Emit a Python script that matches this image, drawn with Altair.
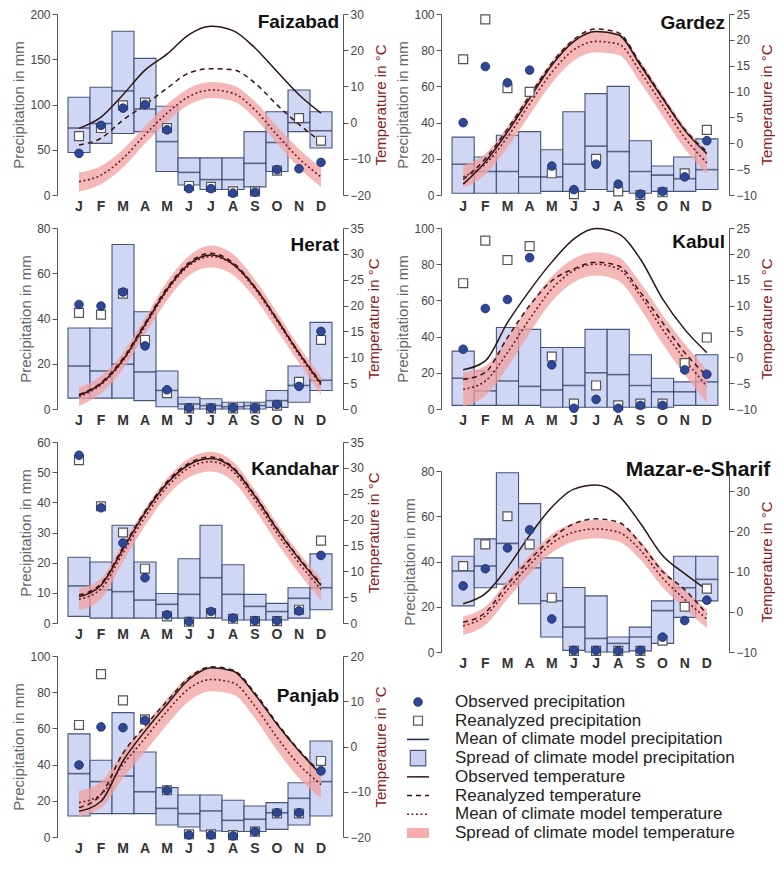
import altair as alt
import pandas as pd

MONTHS = ["J", "F", "M", "A", "M", "J", "J", "A", "S", "O", "N", "D"]

# ---------------- Faizabad ----------------
faiz_p_lo = [47, 57, 68, 70, 26, 11, 6, 6, 9, 26, 70, 52]
faiz_p_hi = [108, 119, 181, 151, 98, 41, 41, 41, 70, 92, 116, 92]
faiz_p_mean = [74, 79, 115, 95, 59, 25, 17, 17, 35, 58, 80, 71]
faiz_obs = [46, 77, 96, 100, 72, 7, 7, 2, 3, 28, 29, 36]
faiz_rea = [65, 74, 99, 102, 74, 10, 9, 4, 4, 27, 85, 60]
faiz_t_obs = [-1.6, 1.5, 7.7, 14.5, 18.9, 24.3, 26.6, 25.4, 20.6, 14.1, 7.7, 2.6]
faiz_t_rea = [-6.2, -4.3, 0.7, 4.9, 9.5, 13.7, 14.9, 14.6, 10.9, 4.9, -0.5, -5.3]
faiz_t_mod = [-16.3, -14.5, -9.9, -3.4, 2.6, 7.2, 9.0, 8.1, 3.5, -3.4, -9.9, -15.0]
faiz_t_lo = [-19.0, -17.0, -12.4, -5.8, 0.2, 4.9, 6.8, 5.9, 1.2, -5.8, -12.5, -17.8]
faiz_t_hi = [-13.8, -12.0, -7.4, -1.0, 5.0, 9.5, 11.2, 10.3, 5.8, -1.0, -7.3, -12.5]

# ---------------- Gardez ----------------
gard_p_lo = [1, 1, 1, 1, 2, 2, 3, 2, 1, 2, 2, 3]
gard_p_hi = [32, 21, 33, 35, 25, 46, 56, 60, 30, 16, 21, 31]
gard_p_mean = [17, 13, 13, 10, 10, 17, 27, 24, 13, 11, 9, 14]
gard_obs = [40, 71, 62, 69, 16, 3, 17, 6, 0.5, 2, 10, 30]
gard_rea = [75, 97, 59, 57, 12, 0.5, 20, 2, 0, 1.5, 12, 36]
gard_t_obs = [-7.9, -3.6, 2.2, 8.7, 15.1, 19.7, 21.6, 21.0, 15.1, 8.7, 2.5, -2.0]
gard_t_rea = [-7.0, -3.0, 2.8, 9.2, 15.5, 20.1, 22.1, 21.4, 15.4, 8.9, 2.7, -1.6]
gard_t_mod = [-6.5, -4.0, 1.2, 7.6, 13.7, 18.1, 19.7, 19.2, 13.8, 7.4, 1.1, -3.8]
gard_t_lo = [-8.7, -6.0, -0.8, 5.5, 11.6, 16.0, 17.6, 17.1, 11.7, 5.3, -1.0, -6.0]
gard_t_hi = [-4.3, -2.0, 3.2, 9.7, 15.8, 20.2, 21.8, 21.3, 15.9, 9.5, 3.2, -1.6]

# ---------------- Herat ----------------
hera_p_lo = [4.8, 4.8, 4.8, 3.7, 1, 0, 0, 0, 0, 0.7, 3, 8.2]
hera_p_hi = [35.8, 35.8, 72.7, 43, 16.8, 5.2, 4.5, 3, 3, 8.2, 19, 38.3]
hera_p_mean = [19, 16.8, 19.8, 16.4, 8.2, 2.2, 1.5, 1, 1.5, 3.7, 10.4, 12.7]
hera_obs = [46.2, 45.5, 51.7, 27.9, 8.5, 0.5, 0.5, 0.5, 0.5, 2, 10, 34.3]
hera_rea = [42.5, 41.7, 51, 30.5, 7, 0.3, 0.3, 0.3, 0.3, 1.5, 12, 30.5]
hera_t_obs = [2.6, 4.9, 9.5, 16.3, 23.1, 28.0, 29.8, 28.0, 23.5, 17.3, 10.8, 4.9]
hera_t_rea = [2.8, 5.1, 9.8, 16.6, 23.4, 28.3, 30.1, 28.3, 23.6, 17.4, 10.9, 5.1]
hera_t_mod = [2.4, 4.7, 9.3, 16.0, 22.8, 27.7, 29.5, 27.9, 23.2, 17.0, 10.5, 4.6]
hera_t_lo = [0.6, 3.0, 7.7, 14.4, 21.0, 25.8, 27.4, 25.9, 21.4, 15.3, 8.9, 2.8]
hera_t_hi = [4.2, 6.4, 10.9, 17.6, 24.6, 29.6, 31.6, 29.9, 25.0, 18.7, 12.1, 6.4]

# ---------------- Kabul ----------------
kabu_p_lo = [2, 2, 2, 2, 1, 1, 1, 1, 1, 1, 2, 2]
kabu_p_hi = [32, 21, 45, 44, 34, 34, 44, 44, 30, 17, 15, 30]
kabu_p_mean = [17, 10, 15.5, 12.5, 10.5, 13, 20, 19, 13, 9.5, 9.5, 15]
kabu_obs = [33, 55.5, 60.5, 83.6, 24.4, 0.4, 5.3, 0.4, 2, 2, 21.6, 19.2]
kabu_rea = [69.5, 93, 82.3, 90, 29, 3, 13, 2, 3, 3, 25.4, 39.5]
kabu_t_obs = [-2.4, -0.7, 6.7, 12.9, 18.4, 22.9, 24.9, 23.9, 19.0, 11.3, 5.4, 0.9]
kabu_t_rea = [-4.3, -2.9, 3.8, 10.0, 14.8, 17.1, 18.4, 17.7, 12.6, 6.7, 0.9, -3.6]
kabu_t_mod = [-6.2, -4.6, 0.9, 7.4, 13.2, 16.8, 18.0, 17.1, 11.9, 5.4, -0.4, -5.6]
kabu_t_lo = [-9.5, -7.5, -2.0, 4.7, 10.8, 14.5, 15.8, 14.8, 9.4, 2.6, -3.4, -8.8]
kabu_t_hi = [-2.9, -1.7, 3.8, 10.1, 15.6, 19.1, 20.3, 19.4, 14.4, 8.2, 2.6, -2.4]

# ---------------- Kandahar ----------------
kand_p_lo = [2.2, 1.6, 1.6, 1.6, 1.6, 1.6, 1.6, 1, 1, 1, 1.6, 4.4]
kand_p_hi = [21.8, 20.2, 32.4, 20.2, 9.8, 21.3, 32.4, 19.3, 9.5, 6.5, 11.7, 22.9]
kand_p_mean = [12.3, 11, 10.4, 7.6, 6.2, 9.5, 15, 9.5, 5.5, 3.8, 8.2, 11.7]
kand_obs = [55.6, 38.2, 26.5, 15, 2.7, 0.5, 3.8, 1.6, 0.8, 0.8, 4, 22.4]
kand_rea = [54, 38.7, 30, 18, 2.2, 0.4, 3.3, 1.4, 0.6, 0.6, 4.4, 27.3]
kand_t_obs = [5.1, 7.3, 14.3, 21.3, 27.0, 30.6, 31.8, 29.9, 24.5, 18.1, 12.4, 7.3]
kand_t_rea = [5.4, 7.6, 14.6, 21.6, 27.3, 30.9, 32.1, 30.1, 24.7, 18.3, 12.6, 7.6]
kand_t_mod = [4.6, 6.6, 13.6, 20.5, 26.3, 30.0, 31.2, 29.3, 23.8, 17.4, 11.6, 6.5]
kand_t_lo = [2.5, 4.6, 11.8, 18.8, 24.6, 28.2, 29.3, 27.4, 21.9, 15.5, 9.6, 4.4]
kand_t_hi = [6.7, 8.6, 15.4, 22.2, 28.0, 31.8, 33.1, 31.2, 25.7, 19.3, 13.6, 8.6]

# ---------------- Mazar-e-Sharif ----------------
maza_p_lo = [20.4, 28.4, 30, 21.3, 6.6, 0.7, 0, 0, 0.5, 3.8, 15.3, 22.6]
maza_p_hi = [42.3, 50, 79.2, 65.6, 41.6, 28.5, 24.8, 6.6, 11, 22.6, 42.3, 42.3]
maza_p_mean = [35.8, 38, 48, 37.2, 22.6, 11, 6, 3.8, 6.6, 18.3, 28.4, 32.1]
maza_obs = [29.2, 36.8, 46, 54, 14.6, 0.7, 0.7, 0.5, 0.7, 6.6, 13.9, 22.9]
maza_rea = [38, 47.6, 60, 47.6, 24, 0.5, 0.5, 0.5, 0.5, 5, 20, 28]
maza_t_obs = [2.0, 4.5, 11.0, 19.0, 26.0, 30.5, 31.5, 29.0, 22.0, 14.0, 9.5, 5.5]
maza_t_rea = [-2.6, -0.2, 6.8, 12.9, 18.2, 21.9, 23.1, 22.3, 17.0, 10.0, 5.5, -0.6]
maza_t_mod = [-3.5, -1.0, 5.5, 11.7, 17.0, 19.8, 20.6, 19.8, 15.3, 8.4, 3.1, -1.8]
maza_t_lo = [-5.8, -3.3, 3.2, 9.4, 14.7, 17.5, 18.3, 17.5, 13.0, 6.1, 0.8, -4.1]
maza_t_hi = [-1.2, 1.3, 7.8, 14.0, 19.3, 22.1, 22.9, 22.1, 17.6, 10.7, 5.4, 0.5]

# ---------------- Panjab ----------------
panj_p_lo = [11.6, 12.9, 12.9, 12.9, 6.6, 5.5, 3.3, 3, 3, 4.2, 6.6, 11.6]
panj_p_hi = [57, 42.4, 68.7, 47, 27.3, 23.2, 23.2, 20.3, 17.1, 19, 30, 53]
panj_p_mean = [35, 30.6, 33.7, 25, 15.8, 12.9, 14.4, 9.2, 9.8, 13.4, 21.4, 30.6]
panj_obs = [39.8, 60.8, 60.4, 64.5, 25.8, 1.1, 1.1, 0.6, 3, 13.4, 13.4, 36.5]
panj_rea = [61.9, 90, 75.5, 65, 25.8, 1.5, 1.5, 1, 3, 13, 13, 42]
panj_t_obs = [-14.3, -12.1, -3.2, 3.4, 9.3, 14.8, 17.4, 16.7, 11.5, 4.9, -1.0, -6.2]
panj_t_rea = [-13.5, -10.6, -1.5, 4.5, 10.0, 15.2, 17.6, 16.9, 11.8, 5.2, -0.8, -5.8]
panj_t_mod = [-12.4, -10.6, -4.0, 1.8, 7.8, 12.8, 14.8, 14.1, 8.9, 2.0, -4.0, -8.4]
panj_t_lo = [-15.4, -13.6, -7.0, -1.2, 4.8, 10.0, 12.2, 11.5, 6.2, -0.9, -7.0, -11.4]
panj_t_hi = [-9.8, -7.8, -1.2, 4.6, 10.6, 15.6, 17.4, 16.7, 11.6, 4.9, -1.2, -5.6]

LEGEND_LABELS = [
    "Observed precipitation",
    "Reanalyzed precipitation",
    "Mean of climate model precipitation",
    "Spread of climate model precipitation",
    "Observed temperature",
    "Reanalyzed temperature",
    "Mean of climate model temperature",
    "Spread of climate model temperature",
]

FONT = "Liberation Sans"
LABEL_EXPR = "[" + ",".join("'%s'" % m for m in MONTHS) + "][datum.value]"

C_BAR_FILL = "#c8d0f2"
C_BAR_STROKE = "#46557a"
C_MEAN = "#27355a"
C_OBS = "#2d4896"
C_REA = "#555555"
C_BAND = "#f2a0a0"
C_TOBS = "#2a1515"
C_TREA = "#3a1212"
C_TMOD = "#7a1a1a"


def legend_layer():
    idx = list(range(len(LEGEND_LABELS)))
    ldf = pd.DataFrame({"i": idx, "label": LEGEND_LABELS})
    ly = alt.Y("i:Q", axis=None,
               scale=alt.Scale(domain=[0, len(idx) - 1], range=[231, 362],
                               nice=False, zero=False))
    lb = alt.Chart(ldf)
    sx, tx, half = -23, 14, 11

    def sel(k):
        return lb.transform_filter(alt.datum.i == k)

    return alt.layer(
        sel(0).mark_circle(size=75, color=C_OBS, stroke="#1a2a66", strokeWidth=0.8,
                           opacity=1).encode(y=ly, x=alt.value(sx)),
        sel(1).mark_square(size=80, fill="white", stroke=C_REA, strokeWidth=1.2,
                           opacity=1).encode(y=ly, x=alt.value(sx)),
        sel(2).mark_rule(color=C_MEAN, strokeWidth=1.6).encode(
            y=ly, x=alt.value(sx - half), x2=alt.value(sx + half)),
        sel(3).mark_square(size=240, fill=C_BAR_FILL, stroke=C_BAR_STROKE,
                           strokeWidth=1.1, opacity=1).encode(y=ly, x=alt.value(sx)),
        sel(4).mark_rule(color=C_TOBS, strokeWidth=1.5).encode(
            y=ly, x=alt.value(sx - half), x2=alt.value(sx + half)),
        sel(5).mark_rule(color=C_TREA, strokeWidth=1.5, strokeDash=[5, 4]).encode(
            y=ly, x=alt.value(sx - half), x2=alt.value(sx + half)),
        sel(6).mark_rule(color=C_TMOD, strokeWidth=1.6, strokeDash=[2, 2.5]).encode(
            y=ly, x=alt.value(sx - half), x2=alt.value(sx + half)),
        sel(7).mark_rule(color=C_BAND, strokeWidth=10, opacity=0.85).encode(
            y=ly, x=alt.value(sx - half), x2=alt.value(sx + half)),
        lb.mark_text(align="left", baseline="middle", fontSize=17, font=FONT,
                     color="#222").encode(y=ly, x=alt.value(tx), text="label:N"),
    )


def panel(name, p_lo, p_hi, p_mean, obs, rea, t_obs, t_rea, t_mod, t_lo, t_hi,
          p_dom, p_ticks, t_dom, t_ticks, w, h, name_y=8, inside=True, extra=None):
    df = pd.DataFrame({
        "m": list(range(12)), "p_lo": p_lo, "p_hi": p_hi, "p_mean": p_mean,
        "obs": obs, "rea": rea, "t_obs": t_obs, "t_rea": t_rea,
        "t_mod": t_mod, "t_lo": t_lo, "t_hi": t_hi,
    })
    step = w / 13.0
    xscale = alt.Scale(paddingInner=0, paddingOuter=0.5)
    xaxis = alt.Axis(title=None, labelExpr=LABEL_EXPR, labelAngle=0, domain=False,
                     ticks=False, labelFontSize=14, labelFontWeight="bold",
                     labelColor="#333", labelPadding=4, labelFont=FONT)
    xb = alt.X("m:O", scale=xscale, axis=xaxis)
    xc = alt.X("m:O", scale=xscale, axis=xaxis, bandPosition=0.5)
    base = alt.Chart(df)

    pscale = alt.Scale(domain=p_dom, nice=False, zero=False)
    laxis = alt.Axis(orient="left", title="Precipitation in mm", values=p_ticks,
                     grid=False, tickSize=5, tickColor="#555", domainColor="#555",
                     labelColor="#444", labelFontSize=12, titleFontSize=15,
                     titleColor="#666", titleFontWeight="normal", titlePadding=3,
                     labelPadding=2)
    bars = base.mark_bar(fill=C_BAR_FILL, fillOpacity=0.85, stroke=C_BAR_STROKE,
                         strokeWidth=1.1).encode(
        x=xb, y=alt.Y("p_lo:Q", scale=pscale, axis=laxis), y2="p_hi:Q")
    mean = base.mark_tick(color=C_MEAN, thickness=1.6, size=step).encode(
        x=xb, y=alt.Y("p_mean:Q", scale=pscale, axis=laxis))
    precip = alt.layer(bars, mean)

    tscale = alt.Scale(domain=t_dom, nice=False, zero=False)
    raxis = alt.Axis(orient="right", title="Temperature in °C", values=t_ticks,
                     grid=False, tickSize=5, tickColor="#555", domainColor="#555",
                     labelColor="#444", labelFontSize=12, titleFontSize=15,
                     titleColor="#8b1a1a", titleFontWeight="normal", titleAngle=270,
                     titleBaseline="top", titlePadding=3, labelPadding=2)
    band = base.mark_area(color=C_BAND, opacity=0.75, interpolate="monotone").encode(
        x=xc, y=alt.Y("t_lo:Q", scale=tscale, axis=raxis), y2="t_hi:Q")
    l_obs = base.mark_line(color=C_TOBS, strokeWidth=1.5, interpolate="monotone").encode(
        x=xc, y=alt.Y("t_obs:Q", scale=tscale, axis=raxis))
    l_rea = base.mark_line(color=C_TREA, strokeWidth=1.5, strokeDash=[5, 4],
                           interpolate="monotone").encode(
        x=xc, y=alt.Y("t_rea:Q", scale=tscale, axis=raxis))
    l_mod = base.mark_line(color=C_TMOD, strokeWidth=1.6, strokeDash=[2, 2.5],
                           interpolate="monotone").encode(
        x=xc, y=alt.Y("t_mod:Q", scale=tscale, axis=raxis))
    temp = alt.layer(band, l_obs, l_rea, l_mod)

    squares = base.mark_square(size=80, fill="white", stroke=C_REA, strokeWidth=1.2,
                               opacity=1).encode(
        x=xc, y=alt.Y("rea:Q", scale=pscale, axis=None))
    circles = base.mark_circle(size=75, color=C_OBS, stroke="#1a2a66", strokeWidth=0.8,
                               opacity=1).encode(
        x=xc, y=alt.Y("obs:Q", scale=pscale, axis=None))
    layers = [precip, temp, alt.layer(squares, circles)]
    if inside:
        lab = alt.Chart(pd.DataFrame({"name": [name]})).mark_text(
            align="right", baseline="middle", fontSize=19, fontWeight="bold",
            font=FONT, color="#111").encode(
            text="name:N", x=alt.value(w - 4), y=alt.value(name_y))
        layers.append(lab)
    if extra is not None:
        layers.append(extra)
    ch = alt.layer(*layers).resolve_scale(y="independent").properties(width=w, height=h)
    if not inside:
        ch = ch.properties(title=alt.TitleParams(["", name], anchor="end", fontSize=21,
                                                 fontWeight="bold", font=FONT,
                                                 color="#111", offset=-15, dx=-4,
                                                 lineHeight=23))
    return ch


WL, WR, H = 286, 288, 181

faiz = panel("Faizabad", faiz_p_lo, faiz_p_hi, faiz_p_mean, faiz_obs, faiz_rea,
             faiz_t_obs, faiz_t_rea, faiz_t_mod, faiz_t_lo, faiz_t_hi,
             [0, 200], [0, 50, 100, 150, 200], [-20, 30], [-20, -10, 0, 10, 20, 30],
             WL, H, name_y=8)
gard = panel("Gardez", gard_p_lo, gard_p_hi, gard_p_mean, gard_obs, gard_rea,
             gard_t_obs, gard_t_rea, gard_t_mod, gard_t_lo, gard_t_hi,
             [0, 100], [0, 20, 40, 60, 80, 100], [-10, 25],
             [-10, -5, 0, 5, 10, 15, 20, 25], WR, H, name_y=9)
hera = panel("Herat", hera_p_lo, hera_p_hi, hera_p_mean, hera_obs, hera_rea,
             hera_t_obs, hera_t_rea, hera_t_mod, hera_t_lo, hera_t_hi,
             [0, 80], [0, 20, 40, 60, 80], [0, 35], [0, 5, 10, 15, 20, 25, 30, 35],
             WL, H, name_y=17)
kabu = panel("Kabul", kabu_p_lo, kabu_p_hi, kabu_p_mean, kabu_obs, kabu_rea,
             kabu_t_obs, kabu_t_rea, kabu_t_mod, kabu_t_lo, kabu_t_hi,
             [0, 100], [0, 20, 40, 60, 80, 100], [-10, 25],
             [-10, -5, 0, 5, 10, 15, 20, 25], WR, H, name_y=14)
kand = panel("Kandahar", kand_p_lo, kand_p_hi, kand_p_mean, kand_obs, kand_rea,
             kand_t_obs, kand_t_rea, kand_t_mod, kand_t_lo, kand_t_hi,
             [0, 60], [0, 10, 20, 30, 40, 50, 60], [0, 35],
             [0, 5, 10, 15, 20, 25, 30, 35], WL, H, name_y=27)
maza = panel("Mazar-e-Sharif", maza_p_lo, maza_p_hi, maza_p_mean, maza_obs, maza_rea,
             maza_t_obs, maza_t_rea, maza_t_mod, maza_t_lo, maza_t_hi,
             [0, 80], [0, 20, 40, 60, 80], [-10, 35], [-10, 0, 10, 20, 30], WR, H,
             inside=False, extra=legend_layer())
panj = panel("Panjab", panj_p_lo, panj_p_hi, panj_p_mean, panj_obs, panj_rea,
             panj_t_obs, panj_t_rea, panj_t_mod, panj_t_lo, panj_t_hi,
             [0, 100], [0, 20, 40, 60, 80, 100], [-20, 20], [-20, -10, 0, 10, 20],
             WL, H, name_y=40)

left_col = alt.vconcat(faiz, hera, kand, panj, spacing=9)
right_col = alt.vconcat(gard, kabu, maza, spacing=9)

chart = alt.hconcat(left_col, right_col, spacing=6).properties(
    padding={"left": 3, "top": 0, "right": 0, "bottom": 0}
).configure(font=FONT).configure_view(strokeWidth=0)

chart.save("out.html", embed_options={"renderer": "svg", "actions": False})
